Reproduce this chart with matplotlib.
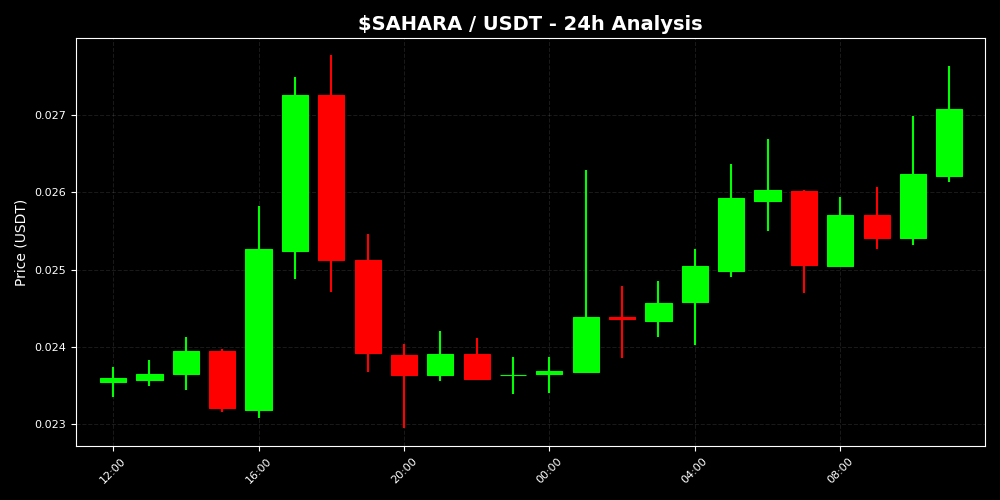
import numpy as np
import matplotlib
matplotlib.use('Agg')
import matplotlib.pyplot as plt
import matplotlib.dates as mdates
from datetime import datetime, timedelta

# hourly candles, 12:00 -> 11:00 next day
start = datetime(2025, 1, 1, 12, 0)
times = [start + timedelta(hours=i) for i in range(24)]

opens = [0.023551, 0.023573, 0.023651, 0.023952, 0.023185, 0.025242,
         0.027251, 0.025126, 0.023897, 0.023642, 0.023909, 0.023633,
         0.023647, 0.023680, 0.024380, 0.024336, 0.024582, 0.024987,
         0.025880, 0.026018, 0.025039, 0.025708, 0.025410, 0.026203]
closes = [0.023595, 0.023651, 0.023952, 0.023211, 0.025268, 0.027251,
          0.025126, 0.023926, 0.023638, 0.023909, 0.023586, 0.023642,
          0.023690, 0.024392, 0.024365, 0.024569, 0.025048, 0.025928,
          0.026031, 0.025061, 0.025708, 0.025410, 0.026238, 0.027079]
highs = [0.023745, 0.023832, 0.024126, 0.023974, 0.025815, 0.027484,
         0.027769, 0.025462, 0.024039, 0.024207, 0.024113, 0.023871,
         0.023871, 0.026290, 0.024789, 0.024854, 0.025268, 0.026368,
         0.026691, 0.026031, 0.025941, 0.026070, 0.026988, 0.027635]
lows = [0.023357, 0.023495, 0.023444, 0.023155, 0.023085, 0.024876,
        0.024715, 0.023681, 0.022956, 0.023560, 0.023573, 0.023392,
        0.023409, 0.023668, 0.023862, 0.024133, 0.024030, 0.024902,
        0.025492, 0.024702, 0.025035, 0.025264, 0.025311, 0.026126]


def main():
    plt.style.use('dark_background')
    fig, ax = plt.subplots(figsize=(10, 5), dpi=100)

    x = mdates.date2num(times)
    width = 0.03  # days
    for xi, o, c, h, l in zip(x, opens, closes, highs, lows):
        color = '#00ff00' if c >= o else '#ff0000'
        ax.vlines(xi, l, h, color=color, linewidth=1.5, zorder=2)
        ax.bar(xi, abs(c - o), bottom=min(o, c), width=width,
               color=color, edgecolor=color, linewidth=0.8, zorder=3)

    ax.set_title('$SAHARA / USDT - 24h Analysis', fontsize=14,
                 fontweight='bold', color='white')
    ax.set_ylabel('Price (USDT)', fontsize=10)
    ax.xaxis.set_major_locator(mdates.HourLocator(byhour=[0, 4, 8, 12, 16, 20]))
    ax.xaxis.set_major_formatter(mdates.DateFormatter('%H:%M'))
    plt.setp(ax.get_xticklabels(), rotation=45, fontsize=8)
    ax.tick_params(axis='y', labelsize=8)

    ax.set_xlim(x[0] - 1.02 / 24, x[0] + 23.98 / 24)
    ax.set_ylim(0.022719, 0.027992)
    ax.grid(True, color='white', alpha=0.1, linestyle='--', linewidth=0.8)
    ax.set_axisbelow(True)

    fig.subplots_adjust(left=0.076, right=0.985, bottom=0.108, top=0.924)
    fig.savefig('out.png', dpi=100, facecolor='black')
    plt.close(fig)


if __name__ == "__main__":
    main()
